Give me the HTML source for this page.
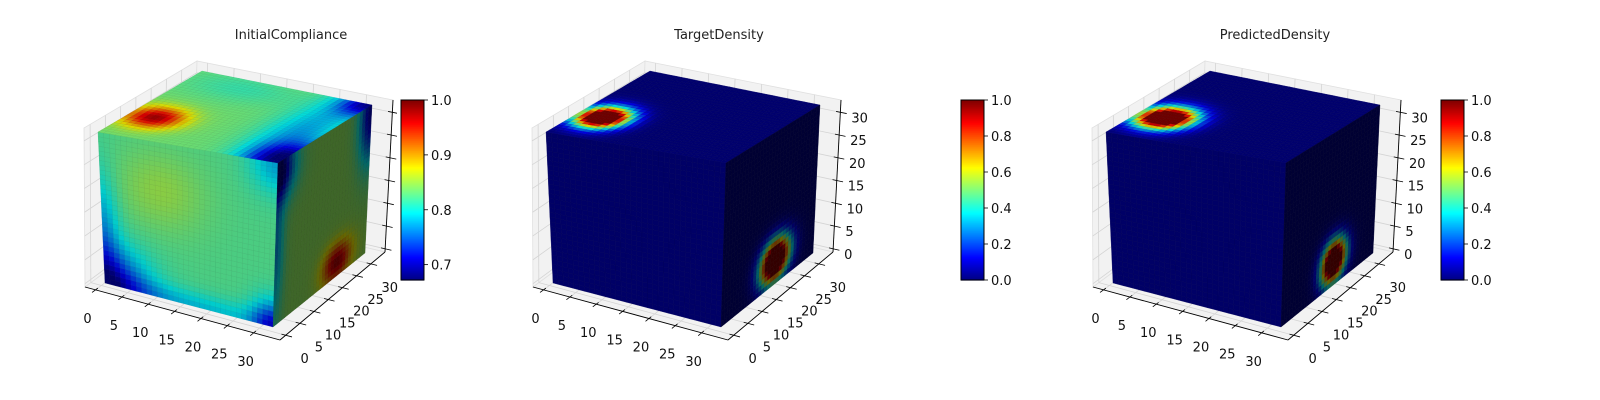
<!DOCTYPE html>
<html><head><meta charset="utf-8">
<style>
html,body{margin:0;padding:0;background:#fff;}
svg{display:block;font-family:"DejaVu Sans","Liberation Sans",sans-serif;}
</style></head>
<body>
<svg id="fig" width="1600" height="400" viewBox="0 0 1600 400" xmlns="http://www.w3.org/2000/svg">
<rect x="0" y="0" width="1600" height="400" fill="#fff"/>
</svg>
<script>
// ---------- data ----------
const panelTitles = ["InitialCompliance", "TargetDensity", "PredictedDensity"];
const xTicks = [0, 5, 10, 15, 20, 25, 30];
const yTicks = [0, 5, 10, 15, 20, 25, 30];
const zTicks = [0, 5, 10, 15, 20, 25, 30];
const cb1Ticks = [0.7, 0.8, 0.9, 1.0];
const cb2Ticks = [0.0, 0.2, 0.4, 0.6, 0.8, 1.0];
const cb3Ticks = [0.0, 0.2, 0.4, 0.6, 0.8, 1.0];
const cbMin = [0.672, 0.0, 0.0];
const cbMax = [1.0, 1.0, 1.0];
// face base values: [front, top, right]
const p1Base = [0.825, 0.835, 0.845];
const p2Base = [0.0, 0.0, 0.0];
const p3Base = [0.0, 0.0, 0.0];
// hotspots (face 0 front(u=x,v=z), 1 top(u=x,v=y), 2 right(u=y,v=z))
const p1BlobFace = [0, 0, 0, 0, 0, 0, 1, 1, 1, 1, 1, 2, 2, 2, 2];
const p1BlobU = [0, 0, 16, 32, 11, 32, 4.5, 32, 32, 28, 10, 22, 0, 32, 0];
const p1BlobV = [0, 12, 0, 0, 22, 32, 10, 2, 32, 16, 28, 3, 30, 30, 15];
const p1BlobRU = [8, 3, 20, 4, 8, 5, 5, 6, 5, 6, 10, 5, 6, 4, 3];
const p1BlobRV = [8, 12, 3, 5, 8, 6, 5, 8, 6, 16, 6, 4, 6, 10, 15];
const p1BlobAmp = [-0.13, -0.05, -0.04, -0.10, 0.025, -0.05, 0.15, -0.15, -0.14, -0.06, -0.02, 0.14, -0.18, -0.15, -0.08];
const p2BlobFace = [1, 2];
const p2BlobU = [4.5, 18.5];
const p2BlobV = [10, 5];
const p2BlobRU = [4, 5];
const p2BlobRV = [4.8, 4.2];
const p2BlobAmp = [1.5, 1.5];
const p3BlobFace = [1, 2];
const p3BlobU = [5, 18];
const p3BlobV = [10, 5];
const p3BlobRU = [4.5, 4.2];
const p3BlobRV = [5, 4.2];
const p3BlobAmp = [1.5, 1.45];

// ---------- geometry ----------
const NS = "http://www.w3.org/2000/svg";
const svg = document.getElementById("fig");
const panelDX = [0, 448, 1008];
const cbX = [401, 961, 1441];
const titleX = [291, 719, 1275];
const box = {"000":[85,287],"100":[280,340],"110":[385,252],"010":[193,207],
             "001":[84,128],"101":[281,172],"111":[393,100],"011":[197,61]};
const cube = {"000":[105,283],"100":[273,327],"110":[365,253],"010":[198,212],
              "001":[98,132],"101":[278,163],"111":[372,105],"011":[202,71]};
const xr = [-2, 35], yr = [-2, 35], zr = [-0.7, 32.7];
function tri(C, a, b, c, dx) {
  function g(k){return C[k];}
  let r = [0,0];
  for (let i=0;i<2;i++){
    const c00 = g("000")[i]*(1-a)+g("100")[i]*a;
    const c10 = g("010")[i]*(1-a)+g("110")[i]*a;
    const c01 = g("001")[i]*(1-a)+g("101")[i]*a;
    const c11 = g("011")[i]*(1-a)+g("111")[i]*a;
    const d0 = c00*(1-b)+c10*b, d1 = c01*(1-b)+c11*b;
    r[i] = d0*(1-c)+d1*c;
  }
  r[0]+=dx; return r;
}
function bx(x,y,z,dx){return tri(box,(x-xr[0])/(xr[1]-xr[0]),(y-yr[0])/(yr[1]-yr[0]),(z-zr[0])/(zr[1]-zr[0]),dx);}
function jet(t){
  t=Math.max(0,Math.min(1,t));
  const f=v=>Math.max(0,Math.min(1,v));
  return [f(1.5-Math.abs(4*t-3)),f(1.5-Math.abs(4*t-2)),f(1.5-Math.abs(4*t-1))];
}
function rgb(c,s){return "rgb("+c.map(v=>Math.round(v*s*255)).join(",")+")";}
function mk(tag, attrs, parent){const e=document.createElementNS(NS,tag);for(const k in attrs)e.setAttribute(k,attrs[k]);(parent||svg).appendChild(e);return e;}

const bases=[p1Base,p2Base,p3Base];
const blobs=[[p1BlobFace,p1BlobU,p1BlobV,p1BlobRU,p1BlobRV,p1BlobAmp],
             [p2BlobFace,p2BlobU,p2BlobV,p2BlobRU,p2BlobRV,p2BlobAmp],
             [p3BlobFace,p3BlobU,p3BlobV,p3BlobRU,p3BlobRV,p3BlobAmp]];
const cbTicksAll=[cb1Ticks,cb2Ticks,cb3Ticks];
const faceShade=[0.8,0.86,0.4];
const faceNames=["front-face","top-face","right-face"];
function fieldVal(p,f,u,v){
  let val=bases[p][f];
  const B=blobs[p];
  for(let i=0;i<B[0].length;i++){
    if(B[0][i]!==f)continue;
    const du=(u-B[1][i])/B[3][i], dv=(v-B[2][i])/B[4][i];
    val+=B[5][i]*Math.exp(-(du*du+dv*dv));
  }
  return Math.min(cbMax[p],val);
}
function facePt(f,u,v,dx){
  const a=u/32,b=v/32;
  if(f===0)return tri(cube,a,0,b,dx);
  if(f===1)return tri(cube,a,b,1,dx);
  return tri(cube,1,a,b,dx);
}

for(let p=0;p<3;p++){
  const dx=panelDX[p];
  const g=mk("g",{});
  
  
  const t=mk("text",{x:titleX[p],y:39,"font-size":13,"text-anchor":"middle",fill:"#222"},g);
  t.textContent=panelTitles[p];
  
  
  const paneDefs=[["000","010","011","001"],["010","110","111","011"],["000","100","110","010"]];
  const paneNames=["left-pane","back-pane","floor-pane"];
  paneDefs.forEach((pd,i)=>{
    const pts=pd.map(k=>[box[k][0]+dx,box[k][1]].join(",")).join(" ");
    const pe=mk("polygon",{points:pts,fill:"#f2f2f2",stroke:"#e0e0e0","stroke-width":0.8},g);
    
    
  });
  const gridG=mk("g",{stroke:"#d4d4d4","stroke-width":0.8,fill:"none"},g);
  
  
  function line(a,b,par,attrs){return mk("line",Object.assign({x1:a[0],y1:a[1],x2:b[0],y2:b[1]},attrs||{}),par);}
  xTicks.forEach(x=>{
    line(bx(x,yr[0],zr[0],dx),bx(x,yr[1],zr[0],dx),gridG);
    line(bx(x,yr[1],zr[0],dx),bx(x,yr[1],zr[1],dx),gridG);
  });
  yTicks.forEach(y=>{
    line(bx(xr[0],y,zr[0],dx),bx(xr[1],y,zr[0],dx),gridG);
    line(bx(xr[0],y,zr[0],dx),bx(xr[0],y,zr[1],dx),gridG);
  });
  zTicks.forEach(z=>{
    line(bx(xr[0],yr[0],z,dx),bx(xr[0],yr[1],z,dx),gridG);
    line(bx(xr[0],yr[1],z,dx),bx(xr[1],yr[1],z,dx),gridG);
  });
  const axG=mk("g",{stroke:"#000","stroke-width":0.9},g);
  
  
  line([box["000"][0]+dx,box["000"][1]],[box["100"][0]+dx,box["100"][1]],axG);
  line([box["100"][0]+dx,box["100"][1]],[box["110"][0]+dx,box["110"][1]],axG);
  line([box["110"][0]+dx,box["110"][1]],[box["111"][0]+dx,box["111"][1]],axG);
  for(let f=0;f<3;f++){
    const fg=mk("g",{},g);
    
    
    const N=32;
    for(let i=0;i<N;i++)for(let j=0;j<N;j++){
      const val=fieldVal(p,f,i+0.5,j+0.5);
      const tt=(val-cbMin[p])/(cbMax[p]-cbMin[p]);
      const c=jet(tt);
      const pts=[facePt(f,i,j,dx),facePt(f,i+1,j,dx),facePt(f,i+1,j+1,dx),facePt(f,i,j+1,dx)]
        .map(q=>q[0].toFixed(1)+","+q[1].toFixed(1)).join(" ");
      mk("polygon",{points:pts,fill:rgb(c,faceShade[f]),stroke:rgb(c,faceShade[f]*0.9),"stroke-width":0.35},fg);
    }
  }
  const tkG=mk("g",{stroke:"#000","stroke-width":0.8},g);
  
  
  const lbG=mk("g",{"font-size":13,fill:"#111"},g);
  
  
  xTicks.forEach(x=>{
    const a=bx(x,yr[0],zr[0],dx), b=bx(x,yr[0]-1.2,zr[0],dx), c=bx(x,yr[0]+0.8,zr[0],dx);
    line(c,b,tkG);
    const tl=mk("text",{x:a[0]-8,y:a[1]+33,"text-anchor":"middle"},lbG);tl.textContent=x;
    
    
  });
  yTicks.forEach(y=>{
    const a=bx(xr[1],y,zr[0],dx), b=bx(xr[1]+1.2,y,zr[0],dx), c=bx(xr[1]-0.8,y,zr[0],dx);
    line(c,b,tkG);
    const tl=mk("text",{x:a[0]+19,y:a[1]+28,"text-anchor":"middle"},lbG);tl.textContent=y;
    
    
  });
  zTicks.forEach(z=>{
    const a=bx(xr[1],yr[1],z,dx), b=bx(xr[1]+1.2,yr[1],z,dx), c=bx(xr[1]-0.8,yr[1],z,dx);
    line(c,b,tkG);
    if(p>0){
      const tl=mk("text",{x:a[0]+11,y:a[1]+10,"text-anchor":"start"},lbG);tl.textContent=z;
      
      
    }
  });
  const cbG=mk("g",{},g);
  
  
  const X=cbX[p], Y0=100, Y1=280, W=23;
  mk("rect",{x:X-4,y:Y0-2,width:W+8,height:Y1-Y0+4,fill:"#fff"},cbG);
  const steps=90;
  for(let k=0;k<steps;k++){
    const t0=k/steps;
    const yy=Y1-(k+1)*(Y1-Y0)/steps;
    mk("rect",{x:X,y:yy.toFixed(2),width:W,height:((Y1-Y0)/steps+0.6).toFixed(2),fill:rgb(jet(t0+0.5/steps),1)},cbG);
  }
  mk("rect",{x:X,y:Y0,width:W,height:Y1-Y0,fill:"none",stroke:"#000","stroke-width":1},cbG);
  cbTicksAll[p].forEach(v=>{
    const yy=Y1-(v-cbMin[p])/(cbMax[p]-cbMin[p])*(Y1-Y0);
    line([X+W,yy],[X+W+4,yy],cbG,{stroke:"#000","stroke-width":0.8});
    const tl=mk("text",{x:X+W+7,y:yy+5,"font-size":13,fill:"#111"},cbG);
    tl.textContent=v.toFixed(1);
    
    
  });
}
</script>
</body></html>
